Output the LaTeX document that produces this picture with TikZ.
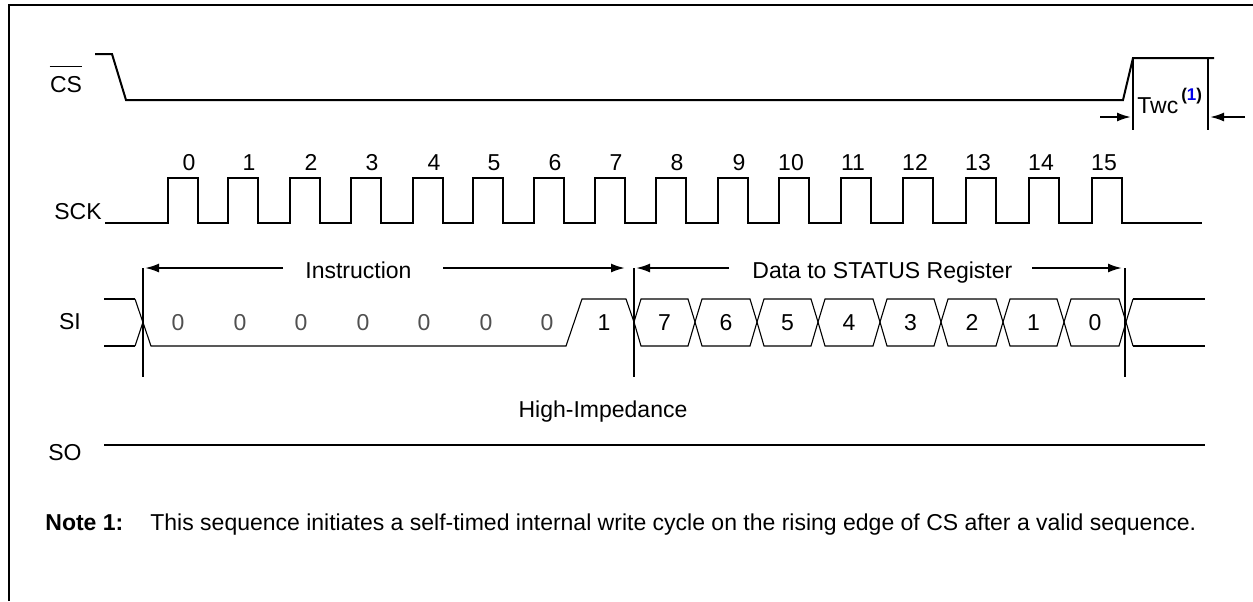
\documentclass[tikz,border=0pt]{standalone}
\usepackage{fontspec}
\setmainfont{Liberation Sans}
\usetikzlibrary{arrows.meta}
\definecolor{refblue}{RGB}{0,0,235}
\definecolor{digitgray}{RGB}{80,80,80}
\begin{document}
\begin{tikzpicture}[x=0.5pt,y=-0.5pt,
  sig/.style={line width=1pt},
  thinsig/.style={line width=0.55pt},
  marker/.style={line width=1pt},
  dim/.style={line width=1pt,-{Latex[length=7pt,width=4.5pt]}},
  lbl/.style={inner sep=0pt,anchor=base,font=\fontsize{11.5}{13.5}\selectfont},
  lblw/.style={lbl,anchor=base west},
  graydigit/.style={lbl,text=digitgray},
  ]
\useasboundingbox (0,0) rectangle (1253,601);
% frame
\draw[line width=1.3pt] (9,601) -- (9,5) -- (1253,5);

% ---------- signal names
\node[lbl] (cslbl) at (66,92) {CS};
\draw[line width=0.8pt] ([yshift=4.5pt]cslbl.north west) -- ([yshift=4.5pt]cslbl.north east);
\node[lbl] (scklbl) at (78,219) {SCK};
\node[lbl] (silbl) at (70,329) {SI};
\node[lbl] (solbl) at (65,460) {SO};

% ---------- CS
\draw[sig] (95,54) -- (112,54) -- (126,100) -- (1123,100) -- (1133,58) -- (1214,58);
\coordinate (tw1t) at (1133,58);
\coordinate (tw1b) at (1133,130);
\coordinate (tw2t) at (1208,58);
\coordinate (tw2b) at (1208,130);
\draw[marker] (tw1t) -- (tw1b);
\draw[line width=0.7pt] (tw2t) -- (tw2b);
\coordinate (twa1) at (1100,117);
\coordinate (twa1e) at (1131,117);
\coordinate (twa2) at (1245,117);
\coordinate (twa2e) at (1210,117);
\draw[dim] (twa1) -- (twa1e);
\draw[dim] (twa2) -- (twa2e);
\node[lblw] (twc) at (1137,113) {Twc\hspace{1.5pt}\raisebox{6.5pt}{\fontsize{8.5}{9}\selectfont\bfseries(\textcolor{refblue}{1})}};

% ---------- SCK
\draw[sig] (105,223)
  \foreach \r in {168,228,290,351,413,473,534,595,656,718,779,841,903,966,1029,1092}
  { -- (\r,223) -- (\r,178) -- (\r+30,178) -- (\r+30,223) }
  -- (1202,223);
\foreach \r/\n in {168/0,228/1,290/2,351/3,413/4,473/5,534/6,595/7,656/8,718/9}
  \node[lbl] (ck\n) at (\r+21,170) {\n};
\foreach \r/\n in {779/10,841/11,903/12,966/13,1029/14,1092/15}
  \node[lbl] (ck\n) at (\r+12,170) {\n};

% ---------- SI
\draw[sig] (104,299) -- (135,299);
\draw[sig] (104,346) -- (135,346);
\draw[thinsig] (135,299) -- (151,346) -- (566,346) -- (582,299) -- (626,299) -- (634,322);
\draw[thinsig] (135,346) -- (143,322);
\foreach \c/\k in {178/a,240/b,301/c,363/d,424/e,486/f,547/g}
  \node[graydigit] (iz\k) at (\c,330) {0};
\node[lbl] (ione) at (604,330) {1};
\foreach \a/\b/\n in {634/695/7,695/757/6,757/818/5,818/880/4,880/941/3,941/1003/2,1003/1064/1,1064/1126/0}
{
  \draw[thinsig] (\a,322) -- (\a+7,299) -- (\b-7,299) -- (\b,322) -- (\b-7,346) -- (\a+7,346) -- cycle;
  \node[lbl] (db\n) at ({(\a+\b)/2},330) {\n};
}
\draw[thinsig] (1126,322) -- (1133,299);
\draw[thinsig] (1126,322) -- (1133,346);
\draw[sig] (1133,299) -- (1205,299);
\draw[sig] (1133,346) -- (1205,346);

% markers
\coordinate (m1t) at (143,268); \coordinate (m1b) at (143,377);
\coordinate (m2t) at (634,268); \coordinate (m2b) at (634,377);
\coordinate (m3t) at (1125,268); \coordinate (m3b) at (1125,377);
\draw[marker] (m1t) -- (m1b);
\draw[marker] (m2t) -- (m2b);
\draw[marker] (m3t) -- (m3b);

% spans
\coordinate (ia1) at (283,268); \coordinate (ia1e) at (145,268);
\coordinate (ia2) at (443,268); \coordinate (ia2e) at (625,268);
\coordinate (da1) at (729,268); \coordinate (da1e) at (636,268);
\coordinate (da2) at (1032,268); \coordinate (da2e) at (1122,268);
\draw[dim] (ia1) -- (ia1e);
\draw[dim] (ia2) -- (ia2e);
\draw[dim] (da1) -- (da1e);
\draw[dim] (da2) -- (da2e);
\node[lblw] (instr) at (305,278) {Instruction};
\node[lblw] (datalbl) at (752,278) {Data to STATUS Register};

% ---------- SO
\node[lbl] (hiz) at (603,417) {High-Impedance};
\draw[sig] (104,445) -- (1205,445);

% ---------- note
\node[lblw] (notehd) at (45,530) {\textbf{Note 1:}};
\node[lblw] (notetxt) at (150,530) {This sequence initiates a self-timed internal write cycle on the rising edge of CS after a valid sequence.};
\end{tikzpicture}
\end{document}
